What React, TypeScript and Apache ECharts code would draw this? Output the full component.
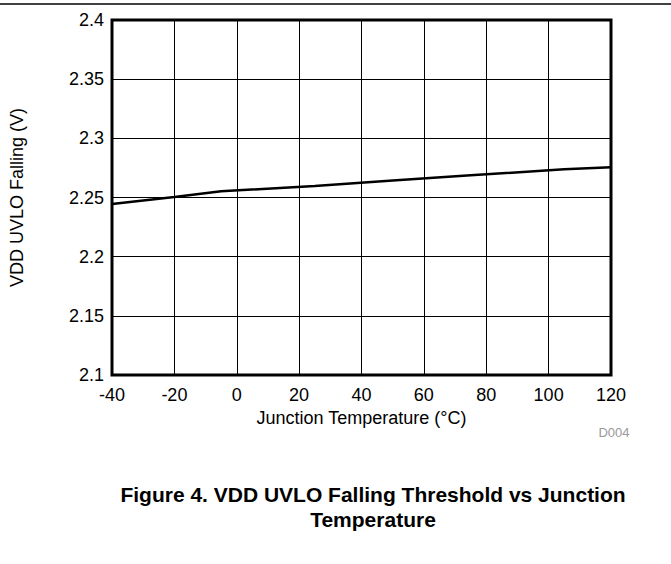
import React, { useEffect, useRef } from "react";
import * as echarts from "echarts";

const temps = [-40, -20, -5, 25, 50, 75, 105, 120];
const vddUvloFalling = [2.2445, 2.2505, 2.2552, 2.2597, 2.2643, 2.2688, 2.2738, 2.2755];
const yTickLabels = ["2.1", "2.15", "2.2", "2.25", "2.3", "2.35", "2.4"];
const titleLines = ["Figure 4. VDD UVLO Falling Threshold vs Junction", "Temperature"];

export default function App() {
  const ref = useRef<HTMLDivElement>(null);
  useEffect(() => {
    if (!ref.current) return;
    const chart = echarts.init(ref.current, undefined, { renderer: "svg" });
    const font = "'Liberation Sans', Arial, sans-serif";
    chart.setOption({
      animation: false,
      backgroundColor: "#fff",
      grid: {
        left: 111,
        top: 20,
        width: 500,
        height: 355,
        show: true,
        borderColor: "#000",
        borderWidth: 3,
        backgroundColor: "transparent",
        z: 5,
      },
      xAxis: {
        type: "value",
        min: -40,
        max: 120,
        interval: 20,
        name: "Junction Temperature (°C)",
        nameLocation: "middle",
        nameGap: 29,
        nameTextStyle: { color: "#000", fontSize: 18, fontFamily: font },
        axisLine: { show: false },
        axisTick: { show: false },
        axisLabel: { color: "#000", fontSize: 18, fontFamily: font, margin: 11 },
        splitLine: { show: true, lineStyle: { color: "#000", width: 1 } },
      },
      yAxis: {
        type: "value",
        min: 2.1,
        max: 2.4,
        interval: 0.05,
        name: "VDD UVLO Falling (V)",
        nameLocation: "middle",
        nameGap: 86,
        nameTextStyle: { color: "#000", fontSize: 18, fontFamily: font },
        axisLine: { show: false },
        axisTick: { show: false },
        axisLabel: {
          color: "#000",
          fontSize: 18,
          fontFamily: font,
          margin: 8,
          formatter: (v: number) => {
            const idx = Math.round((v - 2.1) / 0.05);
            return yTickLabels[idx] ?? "";
          },
        },
        splitLine: { show: true, lineStyle: { color: "#000", width: 1 } },
      },
      series: [
        {
          type: "line",
          data: temps.map((t, i) => [t, vddUvloFalling[i]]),
          showSymbol: false,
          symbol: "none",
          lineStyle: { color: "#000", width: 2.5 },
          z: 3,
        },
      ],
      graphic: [
        {
          type: "line",
          shape: { x1: 0, y1: 4, x2: 671, y2: 4 },
          style: { stroke: "#000", lineWidth: 1.5 },
        },
        {
          type: "text",
          x: 614,
          y: 432,
          style: {
            text: "D004",
            fill: "#999",
            fontSize: 13,
            fontFamily: font,
            align: "center",
            verticalAlign: "middle",
          },
        },
        {
          type: "text",
          x: 373,
          y: 494,
          style: {
            text: titleLines[0],
            fill: "#000",
            fontSize: 21,
            fontWeight: "bold",
            fontFamily: font,
            align: "center",
            verticalAlign: "middle",
          },
        },
        {
          type: "text",
          x: 373,
          y: 519,
          style: {
            text: titleLines[1],
            fill: "#000",
            fontSize: 21,
            fontWeight: "bold",
            fontFamily: font,
            align: "center",
            verticalAlign: "middle",
          },
        },
      ],
    });
    return () => chart.dispose();
  }, []);
  return (
    <div
      ref={ref}
      style={{ position: "absolute", left: 0, top: 0, width: 671, height: 564, background: "#fff" }}
    />
  );
}
